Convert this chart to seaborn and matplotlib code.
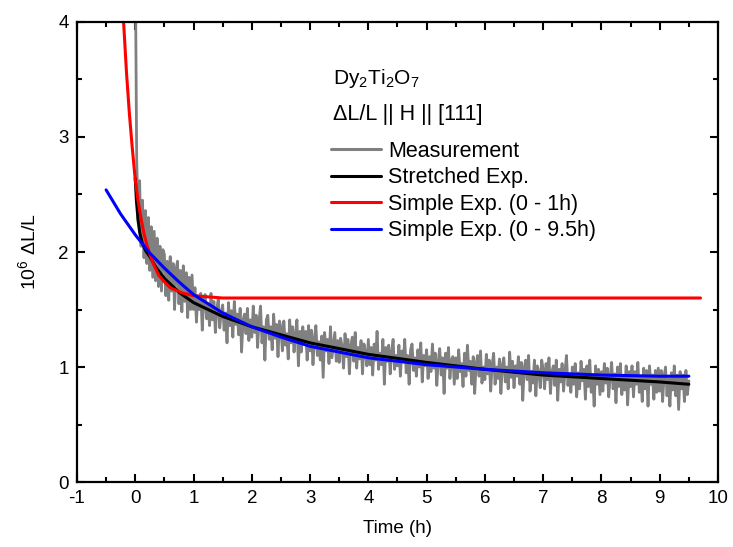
import numpy as np
import pandas as pd
import matplotlib
matplotlib.use("Agg")
import matplotlib.pyplot as plt
import seaborn as sns

# ---------------- data ----------------
meas_values = [
    4.60, 2.80, 2.28, 2.62, 2.05, 2.45, 1.95, 2.36, 1.90, 2.30, 1.84, 2.22, 1.78, 2.18, 1.75, 2.12, 1.70, 2.05, 1.66, 2.02,
    1.98, 1.62, 1.92, 1.58, 1.96, 1.66, 1.90, 1.50, 1.85, 1.92, 1.55, 1.84, 1.48, 1.88, 1.57, 1.82, 1.43, 1.78, 1.50, 1.80,
    1.50, 1.69, 1.39, 1.62, 1.50, 1.64, 1.32, 1.58, 1.63, 1.42, 1.53, 1.36, 1.64, 1.41, 1.57, 1.30, 1.51, 1.59, 1.34, 1.47,
    1.54, 1.32, 1.47, 1.21, 1.56, 1.36, 1.49, 1.26, 1.57, 1.37, 1.46, 1.28, 1.51, 1.13, 1.41, 1.46, 1.29, 1.51, 1.23, 1.41,
    1.26, 1.53, 1.30, 1.45, 1.17, 1.40, 1.53, 1.21, 1.35, 1.06, 1.41, 1.45, 1.24, 1.35, 1.15, 1.46, 1.25, 1.37, 1.09, 1.40,
    1.34, 1.14, 1.40, 1.19, 1.29, 1.07, 1.41, 1.21, 1.35, 1.13, 1.29, 1.41, 1.01, 1.31, 1.13, 1.35, 1.20, 1.31, 1.06, 1.36,
    1.14, 1.32, 1.02, 1.25, 1.36, 1.10, 1.22, 1.06, 1.27, 0.91, 1.30, 1.14, 1.24, 1.03, 1.35, 1.08, 1.19, 1.30, 1.05, 1.23,
    1.04, 1.25, 1.18, 0.99, 1.29, 1.09, 1.24, 0.94, 1.19, 1.26, 1.05, 1.30, 0.99, 1.17, 1.07, 1.23, 0.94, 1.20, 1.13, 1.01,
    1.24, 1.02, 1.17, 0.93, 1.20, 1.06, 1.31, 0.98, 1.12, 1.02, 1.24, 0.85, 1.17, 1.05, 1.19, 0.94, 1.13, 1.24, 0.98, 1.10,
    1.01, 1.19, 0.92, 1.14, 1.05, 1.24, 0.95, 1.10, 0.85, 1.15, 1.20, 0.97, 1.08, 0.92, 1.15, 1.00, 1.21, 0.87, 1.10, 1.01,
    1.15, 0.90, 1.09, 0.96, 1.20, 0.99, 1.12, 0.84, 1.05, 1.16, 0.93, 1.08, 0.77, 1.12, 0.99, 1.17, 0.90, 1.06, 1.09, 0.85,
    1.08, 0.90, 1.15, 0.96, 1.03, 0.83, 1.12, 0.92, 1.19, 0.97, 1.05, 0.85, 1.09, 0.77, 1.03, 1.10, 0.92, 1.14, 0.86, 1.00,
    0.89, 1.11, 0.94, 1.06, 0.79, 1.02, 1.12, 0.85, 1.00, 0.90, 1.07, 0.77, 1.02, 1.08, 0.87, 1.00, 0.81, 1.13, 0.91, 1.05,
    0.82, 1.01, 0.92, 1.09, 0.85, 1.04, 0.71, 0.99, 1.06, 0.89, 1.10, 0.79, 0.96, 0.86, 1.06, 0.75, 1.01, 0.96, 0.82, 1.06,
    0.98, 0.81, 1.03, 0.89, 1.08, 0.77, 0.96, 1.01, 0.84, 1.06, 0.71, 0.98, 0.87, 1.03, 0.79, 0.96, 1.10, 0.84, 0.94, 0.78,
    1.00, 0.85, 1.03, 0.74, 0.95, 0.81, 1.05, 0.88, 0.98, 0.72, 1.01, 0.83, 1.06, 0.78, 0.93, 0.66, 1.01, 0.85, 0.98, 0.76,
    0.96, 0.79, 1.03, 0.86, 0.99, 0.74, 0.91, 1.04, 0.81, 0.94, 0.69, 1.00, 0.83, 1.03, 0.76, 0.92, 0.80, 1.01, 0.67, 0.96,
    0.83, 1.01, 0.74, 0.96, 0.85, 1.04, 0.78, 0.92, 0.70, 0.99, 0.81, 0.97, 0.66, 1.01, 0.85, 0.93, 0.72, 0.97, 0.78, 0.99,
    0.79, 0.97, 0.70, 0.92, 1.00, 0.75, 0.90, 0.66, 0.95, 0.80, 1.01, 0.75, 0.93, 0.63, 0.96, 0.81, 0.93, 0.70, 0.97, 0.76, 0.88,
]
meas_time = np.linspace(0.0, 9.5, len(meas_values))

stretched_time = [0.0, 0.02, 0.05, 0.08, 0.12, 0.18, 0.25, 0.35, 0.5, 0.75, 1.0, 1.5, 2.0, 2.5,
                  3.0, 3.5, 4.0, 5.0, 6.0, 7.0, 8.0, 9.0, 9.5]
stretched_vals = [2.64, 2.45, 2.27, 2.16, 2.08, 2.01, 1.96, 1.87, 1.77, 1.65, 1.56, 1.44, 1.35, 1.28,
                  1.21, 1.16, 1.11, 1.04, 0.98, 0.93, 0.90, 0.87, 0.85]

red_time = [-0.25, -0.2, -0.15, -0.1, -0.05, 0.0, 0.05, 0.1, 0.15, 0.2, 0.25, 0.3, 0.4, 0.5,
            0.6, 0.8, 1.0, 1.25, 1.5, 9.7]
red_vals = [4.45, 4.00, 3.56, 3.20, 2.90, 2.63, 2.44, 2.29, 2.16, 2.06, 1.98, 1.91, 1.80, 1.74,
            1.69, 1.645, 1.62, 1.61, 1.60, 1.60]

blue_time = [-0.5, -0.25, 0.0, 0.25, 0.5, 0.75, 1.0, 1.5, 2.0, 2.5, 3.0, 4.0, 5.0, 6.0, 7.0, 8.0, 9.0, 9.5]
blue_vals = [2.54, 2.33, 2.15, 1.99, 1.86, 1.74, 1.63, 1.47, 1.35, 1.26, 1.18, 1.08, 1.02, 0.98, 0.95, 0.93, 0.92, 0.92]

labels = ["Measurement", "Stretched Exp.", "Simple Exp. (0 - 1h)", "Simple Exp. (0 - 9.5h)"]
colors = ["#808080", "#000000", "#ff0000", "#0000ff"]

# ---------------- style ----------------
sns.set_style("ticks")
plt.rcParams["font.family"] = ["Liberation Sans", "DejaVu Sans"]
plt.rcParams["mathtext.fontset"] = "custom"
plt.rcParams["mathtext.rm"] = "Liberation Sans"
plt.rcParams["axes.unicode_minus"] = False
plt.rcParams["text.color"] = "black"
plt.rcParams["axes.labelcolor"] = "black"
plt.rcParams["xtick.color"] = "black"
plt.rcParams["ytick.color"] = "black"
plt.rcParams["axes.edgecolor"] = "black"

fig = plt.figure(figsize=(7.33, 5.47), dpi=100)
ax = fig.add_axes([0.105, 0.1188, 0.8745, 0.841])

series = [(meas_time, meas_values), (stretched_time, stretched_vals),
          (red_time, red_vals), (blue_time, blue_vals)]
widths = [2.0, 2.2, 2.2, 2.2]
for (tx, vy), lab, col, lw in zip(series, labels, colors, widths):
    df = pd.DataFrame({"t": tx, "v": vy})
    sns.lineplot(data=df, x="t", y="v", ax=ax, color=col, linewidth=lw,
                 label=lab, estimator=None, sort=False)

ax.set_xlim(-1, 10)
ax.set_ylim(0, 4)
ax.set_xticks(range(-1, 11))
ax.set_yticks(range(0, 5))
ax.set_xticks(np.arange(-0.5, 10, 1.0), minor=True)
ax.set_yticks(np.arange(0.5, 4, 1.0), minor=True)
ax.tick_params(which="both", direction="in", top=True, right=True, width=1.5,
               labelsize=13.5, colors="black")
ax.tick_params(which="major", length=6, pad=6)
ax.tick_params(which="minor", length=3.5)
for s in ax.spines.values():
    s.set_linewidth(1.6)
    s.set_color("black")
    s.set_visible(True)

ax.set_xlabel("Time (h)", fontsize=13.5, labelpad=9)
ax.set_ylabel(r"10$^\mathregular{6}$ ΔL/L", fontsize=14, labelpad=13)

ax.text(0.399, 0.865, r"Dy$_\mathregular{2}$Ti$_\mathregular{2}$O$_\mathregular{7}$",
        transform=ax.transAxes, fontsize=15, va="baseline", ha="left")
ax.text(0.399, 0.787, "ΔL/L || H || [111]", transform=ax.transAxes,
        fontsize=15.5, va="baseline", ha="left")

leg = ax.legend(loc="upper left", bbox_to_anchor=(0.397, 0.742), frameon=False,
                fontsize=15.5, borderpad=0, borderaxespad=0, handlelength=2.3,
                handletextpad=0.33, labelspacing=0.26)
for line in leg.get_lines():
    line.set_linewidth(2.2)

fig.savefig("out.png", dpi=100)
